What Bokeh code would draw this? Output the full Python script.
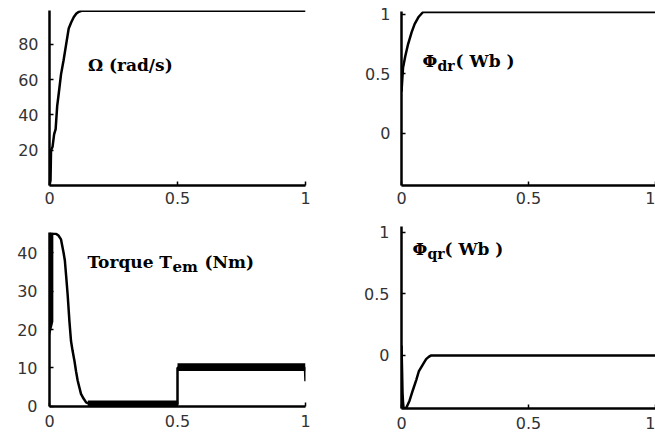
from bokeh.plotting import figure
from bokeh.layouts import column, row
from bokeh.models import Label, FixedTicker, Range1d
from bokeh.embed import file_html
from bokeh.resources import INLINE

# ---- data ----
x_ticks = [0, 0.5, 1]
x_tick_labels = ["0", "0.5", "1"]

speed_t = [0, 0.004, 0.006, 0.012, 0.018, 0.024, 0.030, 0.036, 0.045, 0.055,
           0.065, 0.075, 0.085, 0.095, 0.105, 0.115, 0.125, 1.0]
speed_w = [0, 3, 20, 22, 29, 32, 45, 52, 63, 71,
           80, 89, 92.5, 95.5, 97.5, 98.5, 99, 99]
speed_ticks = [20, 40, 60, 80]

phid_t = [0, 0.003, 0.006, 0.015, 0.026, 0.040, 0.052, 0.068, 0.085, 1.0]
phid_v = [0.35, 0.45, 0.55, 0.65, 0.75, 0.85, 0.92, 0.98, 1.02, 1.02]
flux_ticks = [0, 0.5, 1]
flux_tick_labels = ["0", "0.5", "1"]

torque_t = [0, 0.015, 0.025, 0.035, 0.045, 0.055, 0.060, 0.065, 0.071, 0.078,
            0.084, 0.090, 0.097, 0.104, 0.110, 0.117, 0.123, 0.133, 0.143,
            0.155, 0.170, 0.5, 0.5, 0.998, 1.0]
torque_v = [45, 45, 45, 44.5, 43.5, 40, 38, 34, 29, 22,
            17, 14.5, 12, 9, 6.7, 4.8, 3.2, 2, 1,
            0.6, 0.5, 0.5, 10, 10, 6.5]
torque_ticks = [0, 10, 20, 30, 40]
# ripple envelopes of the torque (start-up, no-load, loaded)
band_start_t = [0, 0.015]
band_start_lo = [18, 22]
band_start_hi = [45.3, 45.3]
band_noload_t = [0.15, 0.5]
band_noload_lo = [-0.1, -0.1]
band_noload_hi = [1.5, 1.5]
band_load_t = [0.5, 1.0]
band_load_lo = [9.2, 9.2]
band_load_hi = [11.2, 11.2]

phiq_t = [0, 0.002, 0.004, 0.006, 0.008, 0.012, 0.020, 0.032, 0.045, 0.058,
          0.068, 0.078, 0.088, 0.097, 0.107, 0.117, 1.0]
phiq_v = [0.08, -0.1, -0.3, -0.38, -0.42, -0.43, -0.42, -0.365, -0.28, -0.2,
          -0.13, -0.095, -0.06, -0.03, -0.012, 0, 0]

TICK_FONT = "DejaVu Sans"
LABEL_FONT = "DejaVu Serif"


def make_fig(w, h, bl, br, bt, bb, yr, yticks, ylabels=None,
             xstand=6, ystand=11):
    p = figure(width=w, height=h, x_range=Range1d(0, 1), y_range=Range1d(*yr),
               output_backend="svg", toolbar_location=None,
               min_border_left=bl, min_border_right=br,
               min_border_top=bt, min_border_bottom=bb)
    p.grid.visible = False
    p.outline_line_color = None
    p.background_fill_color = "white"
    p.border_fill_color = "white"
    p.xaxis.ticker = FixedTicker(ticks=x_ticks)
    p.xaxis.major_label_overrides = dict(zip(x_ticks, x_tick_labels))
    p.yaxis.ticker = FixedTicker(ticks=yticks)
    if ylabels is not None:
        p.yaxis.major_label_overrides = dict(zip(yticks, ylabels))
    for ax in p.axis:
        ax.axis_line_width = 2.5
        ax.axis_line_color = "black"
        ax.major_tick_in = 4
        ax.major_tick_out = 0
        ax.major_tick_line_width = 1.5
        ax.minor_tick_line_color = None
        ax.major_label_text_font = TICK_FONT
        ax.major_label_text_font_size = "16px"
        ax.major_label_text_color = "#333333"
    p.xaxis.major_label_standoff = xstand
    p.yaxis.major_label_standoff = ystand
    return p


def add_label(p, x, y, parts):
    for text, dx, dy, size in parts:
        p.add_layout(Label(x=x, y=y, x_offset=dx, y_offset=dy, text=text,
                           text_font=LABEL_FONT, text_font_style="bold",
                           text_font_size=size, text_color="black",
                           text_baseline="alphabetic", text_align="left"))


# top-left: speed
p1 = make_fig(330, 215, 49, 25, 10, 30, (0, 99.2), speed_ticks)
p1.line(speed_t, speed_w, line_color="black", line_width=2.5)
add_label(p1, 0.150, 68.1, [("Ω (rad/s)", 0, 0, "17px")])

# top-right: flux d
p2 = make_fig(325, 215, 71, 0, 11, 30, (-0.44, 1.024), flux_ticks, flux_tick_labels)
p2.line(phid_t, phid_v, line_color="black", line_width=2.5)
add_label(p2, 0.083, 0.604, [("Φ", 0, 0, "17px"), ("dr", 15, -5, "14px"),
                             ("( Wb )", 33, 0, "17px")])

# bottom-left: torque
p3 = make_fig(330, 221, 49, 25, 17, 30, (-0.08, 45.3), torque_ticks, xstand=8, ystand=12)
p3.varea(x=band_start_t, y1=band_start_lo, y2=band_start_hi, fill_color="black")
p3.varea(x=band_noload_t, y1=band_noload_lo, y2=band_noload_hi, fill_color="black")
p3.varea(x=band_load_t, y1=band_load_lo, y2=band_load_hi, fill_color="black")
p3.line(torque_t, torque_v, line_color="black", line_width=2.5)
add_label(p3, 0.148, 37.5, [("Torque T", 0, 0, "17px"), ("em", 85, -5, "15px"),
                            ("(Nm)", 117, 0, "17px")])

# bottom-right: flux q
p4 = make_fig(325, 221, 71, 0, 11, 28, (-0.43, 1.045), flux_ticks, flux_tick_labels,
              xstand=8, ystand=12)
p4.line(phiq_t, phiq_v, line_color="black", line_width=2.5)
add_label(p4, 0.043, 0.859, [("Φ", 0, 0, "17px"), ("qr", 15, -5, "14px"),
                             ("( Wb )", 32, 0, "17px")])

layout = row(column(p1, p3, spacing=0), column(p2, p4, spacing=0), spacing=0)

open("out.html", "w").write(file_html(layout, INLINE))
